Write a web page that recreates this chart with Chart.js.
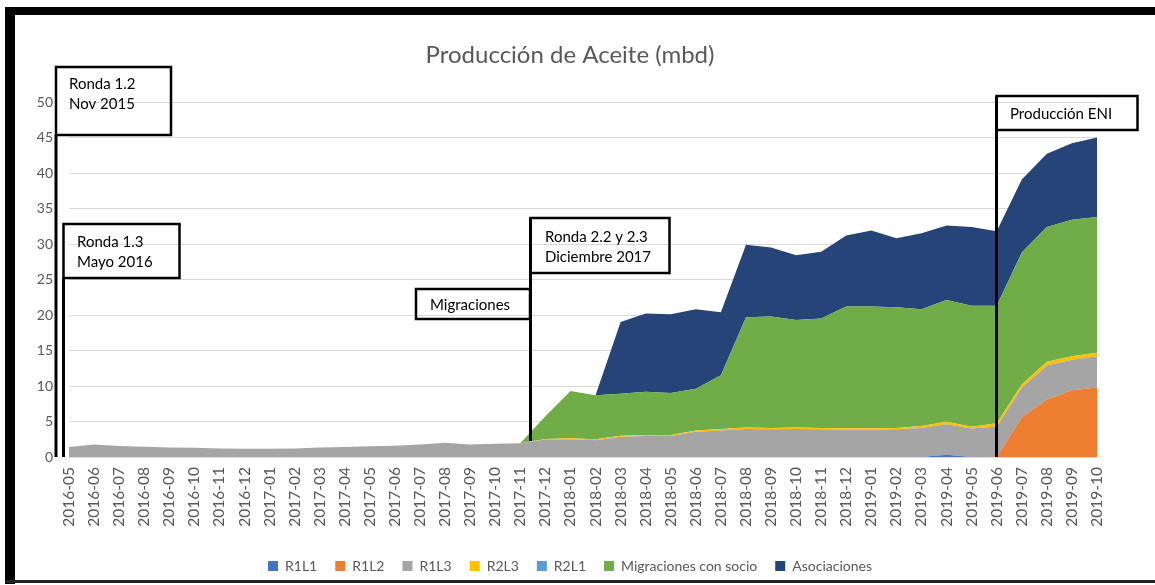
<!DOCTYPE html>
<html lang="es">
<head>
<meta charset="utf-8">
<title>Producción de Aceite (mbd)</title>
<script src="https://cdn.jsdelivr.net/npm/chart.js@4.4.0/dist/chart.umd.min.js"></script>
<style>
  html, body { margin: 0; padding: 0; background: #fff; }
  #marco { position: relative; width: 1155px; height: 585px; }
</style>
</head>
<body>
<div id="marco"><canvas id="grafico" width="1155" height="585"></canvas></div>
<script>
// Meses del eje X
const meses = [
  "2016-05", "2016-06", "2016-07", "2016-08", "2016-09", "2016-10", "2016-11", "2016-12",
  "2017-01", "2017-02", "2017-03", "2017-04", "2017-05", "2017-06", "2017-07", "2017-08",
  "2017-09", "2017-10", "2017-11", "2017-12", "2018-01", "2018-02", "2018-03", "2018-04",
  "2018-05", "2018-06", "2018-07", "2018-08", "2018-09", "2018-10", "2018-11", "2018-12",
  "2019-01", "2019-02", "2019-03", "2019-04", "2019-05", "2019-06", "2019-07", "2019-08",
  "2019-09", "2019-10"
];

// Producción por contrato (mbd)
const r1l1 = [
  0, 0, 0, 0, 0, 0, 0, 0, 0, 0, 0, 0, 0, 0, 0, 0, 0, 0, 0, 0, 0,
  0, 0, 0, 0, 0, 0, 0, 0, 0, 0, 0, 0, 0, 0, 0.3, 0, 0, 0, 0, 0, 0
];
const r1l2 = [
  0, 0, 0, 0, 0, 0, 0, 0, 0, 0, 0, 0, 0, 0, 0, 0, 0, 0, 0, 0, 0,
  0, 0, 0, 0, 0, 0, 0, 0, 0, 0, 0, 0, 0, 0, 0, 0, 0, 5.6, 8.1, 9.4, 9.8
];
const r1l3 = [
  1.4, 1.75, 1.55, 1.45, 1.35, 1.3, 1.2, 1.15, 1.15, 1.2, 1.35, 1.4, 1.5, 1.6, 1.75, 2.0,
  1.75, 1.85, 1.95, 2.45, 2.5, 2.35, 2.85, 2.95, 2.95, 3.55, 3.75, 3.95, 3.9, 3.95, 3.9, 3.85,
  3.85, 3.9, 4.1, 4.3, 4.0, 4.3, 4.2, 4.8, 4.3, 4.4
];
const r2l3 = [
  0, 0, 0, 0, 0, 0, 0, 0, 0, 0, 0, 0, 0, 0, 0, 0, 0, 0, 0, 0.1, 0.15,
  0.15, 0.15, 0.15, 0.15, 0.2, 0.2, 0.2, 0.2, 0.2, 0.2, 0.2, 0.2, 0.2, 0.25, 0.35, 0.25, 0.45, 0.4, 0.5, 0.5, 0.5
];
const r2l1 = [
  0, 0, 0, 0, 0, 0, 0, 0, 0, 0, 0, 0, 0, 0, 0, 0, 0, 0, 0, 0, 0,
  0, 0, 0, 0, 0, 0, 0, 0, 0, 0, 0, 0, 0, 0, 0, 0, 0, 0, 0, 0, 0
];
const migraciones = [
  0, 0, 0, 0, 0, 0, 0, 0, 0, 0, 0, 0, 0, 0, 0, 0, 0, 0, 0, 3.2, 6.65,
  6.2, 5.9, 6.1, 5.9, 5.85, 7.55, 15.55, 15.7, 15.15, 15.4, 17.15, 17.15, 17.0, 16.45, 17.15, 17.05,
  16.55, 18.6, 19.0, 19.2, 19.1
];
const asociaciones = [
  0, 0, 0, 0, 0, 0, 0, 0, 0, 0, 0, 0, 0, 0, 0, 0, 0, 0, 0, 0, 0,
  0, 10.1, 11.0, 11.1, 11.2, 8.9, 10.2, 9.7, 9.1, 9.4, 10.0, 10.7, 9.7, 10.7, 10.5, 11.1,
  10.5, 10.3, 10.3, 10.8, 11.2
];

const series = [
  { nombre: "R1L1", datos: r1l1, color: "#4472C4" },
  { nombre: "R1L2", datos: r1l2, color: "#ED7D31" },
  { nombre: "R1L3", datos: r1l3, color: "#A5A5A5" },
  { nombre: "R2L3", datos: r2l3, color: "#FFC000" },
  { nombre: "R2L1", datos: r2l1, color: "#5B9BD5" },
  { nombre: "Migraciones con socio", datos: migraciones, color: "#70AD47" },
  { nombre: "Asociaciones", datos: asociaciones, color: "#264478" }
];

const fuente = "Lato, 'Open Sans', sans-serif";

// Cuadros de texto y líneas que se dibujan encima del gráfico
function caja(ctx, x, y, w, h, lineas, tx, ty) {
  ctx.lineWidth = 2.5;
  ctx.strokeStyle = "#000";
  ctx.strokeRect(x, y, w, h);
  ctx.fillStyle = "#000";
  ctx.font = "15px " + fuente;
  ctx.textBaseline = "middle";
  ctx.textAlign = "left";
  lineas.forEach((t, i) => ctx.fillText(t, tx, ty + i * 20));
}

function linea(ctx, x, y1, y2) {
  ctx.lineWidth = 3;
  ctx.strokeStyle = "#000";
  ctx.beginPath();
  ctx.moveTo(x, y1);
  ctx.lineTo(x, y2);
  ctx.stroke();
}

const anotaciones = {
  id: "anotaciones",
  afterLayout(chart) {
    // las etiquetas del eje Y salen del ancho fijado; se amplía su zona de recorte
    chart.scales.y.left = 16;
  },
  afterDraw(chart) {
    const ctx = chart.ctx;
    const base = chart.scales.y.getPixelForValue(0);
    ctx.save();

    linea(ctx, 56, 135, base);
    caja(ctx, 56, 67, 115, 68, ["Ronda 1.2", "Nov 2015"], 69, 84);

    linea(ctx, 63.5, 278, base);
    caja(ctx, 63.5, 224, 116, 54, ["Ronda 1.3", "Mayo 2016"], 77, 242);

    linea(ctx, 530.5, 218, 441);
    caja(ctx, 416, 289, 114, 30, ["Migraciones"], 430, 305);
    caja(ctx, 530.5, 218, 139, 55, ["Ronda 2.2 y 2.3", "Diciembre 2017"], 545, 237);

    linea(ctx, 996.5, 96, base);
    caja(ctx, 996.5, 96, 141, 34, ["Producción ENI"], 1010, 114);

    // marco negro de la imagen
    ctx.fillStyle = "#000";
    ctx.fillRect(5, 7, 1150, 8);
    ctx.fillRect(5, 7, 10, 577);
    ctx.fillStyle = "#222";
    ctx.fillRect(5, 580, 1150, 3);
    ctx.restore();
  }
};

new Chart(document.getElementById("grafico"), {
  type: "line",
  data: {
    labels: meses,
    datasets: series.map((s, i) => ({
      label: s.nombre,
      data: s.datos,
      backgroundColor: s.color,
      borderColor: s.color,
      borderWidth: 0,
      pointRadius: 0,
      tension: 0,
      fill: i === 0 ? "origin" : "-1"
    }))
  },
  options: {
    responsive: false,
    animation: false,
    layout: { padding: { left: 43, right: 58, top: 0, bottom: 2 } },
    plugins: {
      title: {
        display: true,
        text: "Producción de Aceite (mbd)",
        color: "#595959",
        font: { family: fuente, size: 24, weight: "normal" },
        padding: { top: 41, bottom: 32.2 }
      },
      legend: {
        position: "bottom",
        labels: {
          boxWidth: 10,
          boxHeight: 10,
          padding: 18,
          color: "#595959",
          font: { family: fuente, size: 14 }
        }
      },
      tooltip: { enabled: false }
    },
    scales: {
      x: {
        stacked: true,
        offset: false,
        grid: { display: false, drawTicks: false },
        border: { display: false },
        ticks: {
          autoSkip: false,
          maxRotation: 90,
          minRotation: 90,
          padding: 10,
          color: "#595959",
          font: { family: fuente, size: 15.5 }
        },
        afterFit(escala) { escala.height = 84; }
      },
      y: {
        stacked: true,
        min: 0,
        max: 50,
        grid: { color: "#D9D9D9", lineWidth: 1, drawTicks: false },
        border: { display: false },
        ticks: {
          stepSize: 5,
          padding: 16,
          color: "#595959",
          font: { family: fuente, size: 14 }
        },
        afterFit(escala) { escala.width = 26; }
      }
    }
  },
  plugins: [anotaciones]
});
</script>
</body>
</html>
